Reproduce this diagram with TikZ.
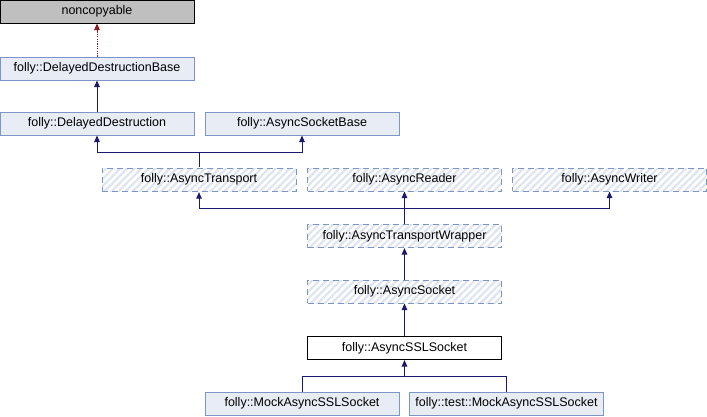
\documentclass[tikz,border=0pt]{standalone}
\usepackage{fontspec}
\setmainfont{Liberation Sans}
\usetikzlibrary{patterns.meta,arrows.meta}
\definecolor{bfill}{HTML}{E8ECF5}
\definecolor{bdraw}{HTML}{7C95C6}
\definecolor{hatch}{HTML}{DEE4F0}
\definecolor{navy}{HTML}{191970}
\definecolor{dred}{HTML}{8B1A1A}
\definecolor{gfill}{HTML}{BFBFBF}
\tikzset{
  x=1pt,y=-1pt,
  cls/.style={draw=bdraw,fill=bfill,line width=1pt,minimum width=194pt,minimum height=23pt,inner sep=0pt,font=\fontsize{12.5}{14}\selectfont},
  ext/.style={draw=bdraw,line width=1pt,dash pattern=on 6pt off 4pt,minimum width=194pt,minimum height=23pt,inner sep=0pt,font=\fontsize{12.5}{14}\selectfont,
    pattern={Lines[angle=45,distance=5pt,line width=2.2pt]},pattern color=hatch},
  cur/.style={draw=black,fill=white,line width=1pt,minimum width=194pt,minimum height=23pt,inner sep=0pt,font=\fontsize{12.5}{14}\selectfont},
  gray/.style={draw=black,fill=gfill,line width=1pt,minimum width=194pt,minimum height=23pt,inner sep=0pt,font=\fontsize{12.5}{14}\selectfont},
  inh/.style={draw=navy,line width=1pt,-{Triangle[width=5.5pt,length=6.5pt]}},
  priv/.style={draw=dred,line width=1pt,dash pattern=on 1.2pt off 1.2pt,-{Triangle[width=5.5pt,length=6.5pt]}},
}
\begin{document}
\begin{tikzpicture}
\useasboundingbox (0,0) rectangle (707,416);
\node[gray] (nc) at (97,11.5) {noncopyable};
\node[cls] (ddb) at (97,68.5) {folly::DelayedDestructionBase};
\node[cls] (dd) at (97,123.5) {folly::DelayedDestruction};
\node[cls] (asb) at (302,123.5) {folly::AsyncSocketBase};
\node[ext] (at) at (199,179.5) {folly::AsyncTransport};
\node[ext] (ar) at (404.5,179.5) {folly::AsyncReader};
\node[ext] (aw) at (609.5,179.5) {folly::AsyncWriter};
\node[ext] (atw) at (404.5,236) {folly::AsyncTransportWrapper};
\node[ext] (as) at (404.5,291.5) {folly::AsyncSocket};
\node[cur] (ssl) at (404.5,348) {folly::AsyncSSLSocket};
\node[cls] (m1) at (302,403.5) {folly::MockAsyncSSLSocket};
\node[cls] (m2) at (506.5,403.5) {folly::test::MockAsyncSSLSocket};
\coordinate (j1) at (199,152);
\coordinate (j2) at (404.5,208);
\coordinate (j3) at (404.5,376);
\draw[priv] (ddb) -- (nc);
\draw[inh] (dd) -- (ddb);
\draw[navy,line width=1pt] (at.north) -- (j1);
\draw[inh] (j1) -| (dd.south);
\draw[inh] (j1) -| (asb.south);
\draw[inh] (atw) -- (ar);
\draw[inh] (j2) -| (at.south);
\draw[inh] (j2) -| (aw.south);
\draw[inh] (as) -- (atw);
\draw[inh] (ssl) -- (as);
\draw[navy,line width=1pt] (m1.north) |- (j3);
\draw[navy,line width=1pt] (m2.north) |- (j3);
\draw[inh] (j3) -- (ssl.south);
\end{tikzpicture}
\end{document}
